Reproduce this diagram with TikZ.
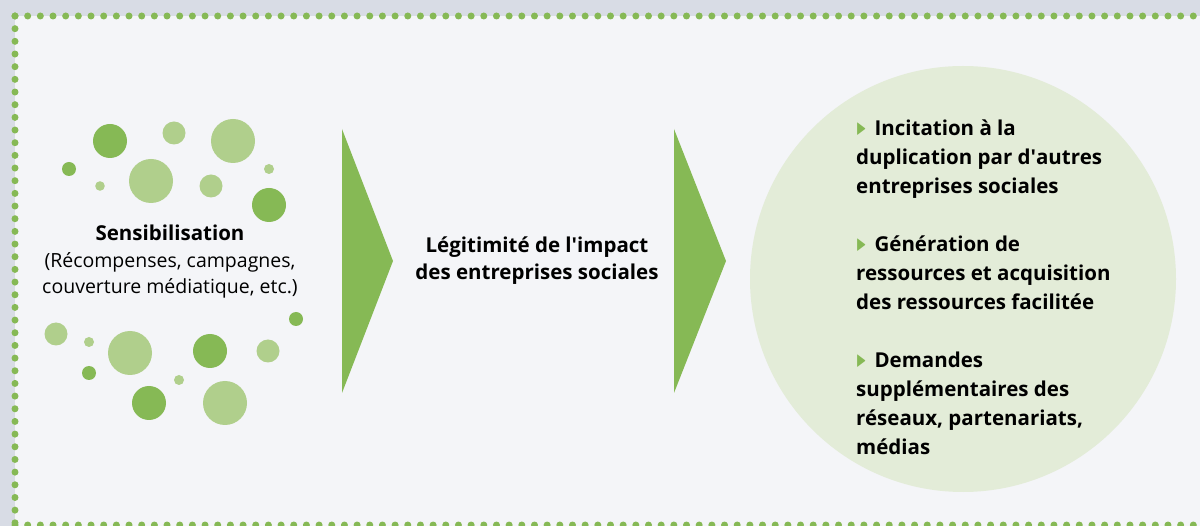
\documentclass[tikz,border=0pt]{standalone}
\usepackage{fontspec}
\setmainfont{Open Sans}
\usepackage{amssymb}
\usepackage{xcolor}
\usetikzlibrary{positioning}
\definecolor{bandgray}{HTML}{D8DCE5}
\definecolor{panelgray}{HTML}{F4F5F8}
\definecolor{dkgreen}{HTML}{86B955}
\definecolor{ltgreen}{HTML}{B0CF8C}
\definecolor{palegreen}{HTML}{E3ECD8}
\newcommand{\bultri}{\textcolor{dkgreen}{\raisebox{0.5pt}{\scalebox{0.65}[1.05]{$\blacktriangleright$}}}\hspace{8pt}}

\begin{document}
\begin{tikzpicture}[x=1pt, y=-1pt,
  dotrow/.style={dkgreen, line width=7pt, line cap=round, dash pattern=on 0pt off 12.67pt},
  dkbub/.style={fill=dkgreen},
  ltbub/.style={fill=ltgreen},
  chevron/.style={fill=dkgreen},
  plain/.style={font=\fontsize{19.5}{26.5}\selectfont, align=center, inner sep=0pt},
  heavy/.style={font=\fontsize{20.5}{27}\selectfont\bfseries, align=center, inner sep=0pt}]
\useasboundingbox (0,0) rectangle (1200,526);
\fill[bandgray] (0,0) rectangle (1200,526);
\fill[panelgray] (15,16) rectangle (1200,526);
\draw[dotrow] (15,16) -- (1200,16);
\draw[dotrow] (15,16) -- (15,526);
\draw[dotrow] (15,525) -- (1200,525);

% bubbles, upper group
\fill[dkbub] (110,141) circle (17);
\fill[ltbub] (174,133) circle (11.5);
\fill[ltbub] (233,141) circle (22);
\fill[dkbub] (69,169) circle (7);
\fill[ltbub] (100,186) circle (4.8);
\fill[ltbub] (151,181) circle (22);
\fill[ltbub] (211,186) circle (11.5);
\fill[ltbub] (269,169) circle (5);
\fill[dkbub] (269,205) circle (17);
% bubbles, lower group
\fill[ltbub] (56,334) circle (11.5);
\fill[ltbub] (89,342) circle (5);
\fill[ltbub] (130,353) circle (22);
\fill[dkbub] (210,351) circle (17);
\fill[ltbub] (268,351) circle (11.5);
\fill[dkbub] (296,319) circle (7);
\fill[dkbub] (89,373) circle (7);
\fill[ltbub] (179,380) circle (5);
\fill[dkbub] (149,403) circle (17);
\fill[ltbub] (225,403) circle (22);

\node[plain] (sens) at (170,262) {{\fontsize{20.5}{26.5}\selectfont\bfseries Sensibilisation}\\(Récompenses, campagnes,\\couverture médiatique, etc.)};

\fill[chevron] (342,129) -- (393,261) -- (342,393) -- cycle;
\node[heavy] (legit) at (537,261) {Légitimité de l\textquotesingle impact\\des entreprises sociales};
\fill[chevron] (674,129) -- (726,261) -- (674,393) -- cycle;

\node[circle, fill=palegreen, minimum size=426pt, inner sep=0pt] (disc) at (963,279) {};
\node[heavy, align=left, anchor=west, font=\fontsize{20.5}{29}\selectfont\bfseries] (effets) at (856,287) {\bultri Incitation à la\\duplication par d\textquotesingle autres\\entreprises sociales\\[29pt]
\bultri Génération de\\ressources et acquisition\\des ressources facilitée\\[29pt]
\bultri Demandes\\supplémentaires des\\réseaux, partenariats,\\médias};
\end{tikzpicture}
\end{document}
